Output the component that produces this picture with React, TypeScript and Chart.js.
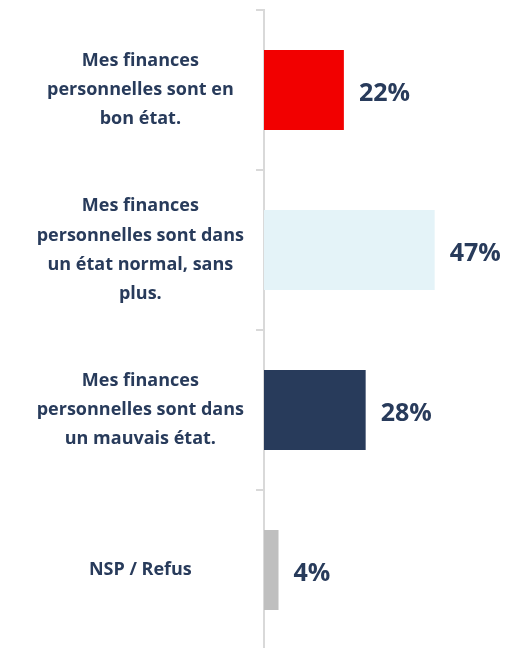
import React, { useEffect, useRef } from "react";
import { Chart, registerables } from "chart.js";

Chart.register(...registerables);

const categories: string[][] = [
  ["Mes finances", "personnelles sont en", "bon état."],
  ["Mes finances", "personnelles sont dans", "un état normal, sans", "plus."],
  ["Mes finances", "personnelles sont dans", "un mauvais état."],
  ["NSP / Refus"],
];
const values: number[] = [22, 47, 28, 4];
const valueLabels: string[] = ["22%", "47%", "28%", "4%"];
const barColors: string[] = ["#F20000", "#E4F3F8", "#283B5B", "#BFBFBF"];

const TEXT = "#283B5B";
const FONT = "'Open Sans', sans-serif";

const valuePlugin = {
  id: "valueLabels",
  afterDatasetsDraw(chart: any) {
    const ctx = chart.ctx;
    const meta = chart.getDatasetMeta(0);
    ctx.save();
    ctx.font = `bold 25px ${FONT}`;
    ctx.fillStyle = TEXT;
    ctx.textAlign = "left";
    ctx.textBaseline = "middle";
    meta.data.forEach((bar: any, i: number) => {
      ctx.fillText(valueLabels[i], bar.x + 15, bar.y + 4);
    });
    ctx.restore();
  },
};

export default function App() {
  const ref = useRef<HTMLCanvasElement | null>(null);
  useEffect(() => {
    if (!ref.current) return;
    const chart = new Chart(ref.current, {
      type: "bar",
      data: {
        labels: categories,
        datasets: [
          {
            data: values,
            backgroundColor: barColors,
            borderWidth: 0,
            categoryPercentage: 1,
            barPercentage: 0.5,
          },
        ],
      },
      options: {
        indexAxis: "y",
        animation: false,
        responsive: true,
        maintainAspectRatio: false,
        layout: { padding: { top: 2, bottom: 0, left: 0, right: 8 } },
        plugins: { legend: { display: false }, tooltip: { enabled: false } },
        scales: {
          x: { display: false, min: 0, max: 65 },
          y: {
            afterFit(scale: any) {
              scale.width = 256;
              scale.paddingTop = 0;
              scale.paddingBottom = 0;
            },
            border: { display: true, color: "#D9D9D9", width: 2 },
            grid: {
              display: true,
              drawOnChartArea: false,
              drawTicks: true,
              tickLength: 8,
              color: "#D9D9D9",
              lineWidth: 2,
              offset: true,
            },
            ticks: {
              crossAlign: "center",
              padding: 12,
              color: TEXT,
              font: { family: FONT, size: 18, weight: "bold", lineHeight: 1.62 },
            },
          },
        },
      },
      plugins: [valuePlugin],
    });
    return () => chart.destroy();
  }, []);
  return (
    <div style={{ width: 500, height: 642 }}>
      <canvas ref={ref} />
    </div>
  );
}
